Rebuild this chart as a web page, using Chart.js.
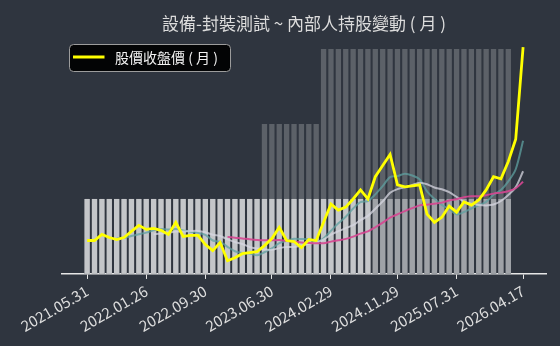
<!DOCTYPE html>
<html><head><meta charset="utf-8">
<script src="https://cdn.jsdelivr.net/npm/chart.js@4.4.1/dist/chart.umd.min.js"></script>
<style>html,body{margin:0;padding:0;background:#2f353f;}canvas{display:block;}</style>
</head><body>
<canvas id="c" width="560" height="346"></canvas>
<script>
const chartTitle = '設備-封裝測試 ~ 內部人持股變動 ( 月 )';
const priceLabel = '股價收盤價 ( 月 )';
const tickIdx = [0, 8, 16, 25, 33, 42, 50, 59];
const tickLabels = ['2021.05.31','2022.01.26','2022.09.30','2023.06.30','2024.02.29','2024.11.29','2025.07.31','2026.04.17'];

const price = [36.5,36.5,39.5,38,37,38,41,44,42,42.5,41.5,39.5,45.5,38.5,39,39,34.5,31.5,35.5,26.5,
  28,30,30.5,31,34,37.5,43,36.5,36,33,37,36.5,45.5,54.5,51.5,53,57,61.5,57,68,
  73.5,79,64,63,63.5,64,49.5,45.5,48,53.5,50.5,55.5,54,56.5,61.5,68,67,75.5,86.5,132];

const ma5 = [null,null,null,null,37.5,37.8,38.7,39.6,40.4,41.5,42.2,41.9,42.2,41.5,40.8,40.3,39.3,36.5,35.9,33.4,
  31.2,30.3,30.1,29.2,30.7,32.6,35.2,36.4,37.4,37.2,37.1,35.8,37.6,41.3,45,48.2,52.3,55.5,56,59.3,
  63.4,67.8,68.3,69.5,68.6,66.7,60.8,57.1,54.1,52.1,49.4,50.6,52.3,54,55.6,59.1,61.4,65.7,71.7,85.8];

const ma10 = [null,null,null,null,null,null,null,null,null,39.5,40,40.3,40.9,40.95,41.15,41.25,40.6,39.35,38.7,37.1,
  35.75,34.8,33.3,32.55,32.05,31.9,32.75,33.25,33.3,33.95,34.85,35.5,37,39.35,41.1,42.65,44.05,46.55,48.65,52.15,
  55.8,60.05,61.9,62.75,63.95,65.05,64.3,62.7,61.8,60.35,58.05,55.7,54.7,54.05,53.85,54.25,56,59,62.85,70.7];

const ma20 = [null,null,null,null,null,null,null,null,null,null,null,null,null,null,null,null,null,null,null,38.3,
  37.9,37.55,37.1,36.75,36.6,36.6,36.7,36.3,36,35.5,35.3,35.15,35.15,35.95,36.6,37.3,38.4,39.9,41,43.05,
  45.3,47.8,49.45,51.05,52.5,53.85,54.2,54.6,55.2,56.25,56.9,57.9,58.3,58.4,58.9,59.65,60.15,60.85,62.3,65.5];

// insider holding (%), monthly
const holdTotal = [10,10,10,10,10,10,10,10,10,10,10,10,10,10,10,10,10,10,10,10,
  10,10,10,10,20,20,20,20,20,20,20,20,30,30,30,30,30,30,30,30,
  30,30,30,30,30,30,30,30,30,30,30,30,30,30,30,30,30,30];
const holdDirA = [10,10,10,10,10,10,10,10,10,10,10,10,10,10,10,10,10,10,10,10,
  10,10,10,10,10,10,10,10,10,10,10,10,10,10,10,10,10,10,10,null,
  null,null,null,null,null,null,null,null,null,null,null,null,null,null,null,null,null,null];
const holdDirB = [null,null,null,null,null,null,null,null,null,null,null,null,null,null,null,null,null,null,null,null,
  null,null,null,null,null,null,null,null,null,null,null,null,null,null,null,null,null,null,null,10,
  10,10,10,10,10,10,10,10,10,10,10,10,10,10,10,10,10,10];

const xy = arr => arr.map((v, i) => ({x: i, y: v}));
const FONT = '"Noto Sans CJK TC", "Noto Sans", sans-serif';

const bgPlugin = {
  id: 'bg',
  beforeDraw(chart) {
    const ctx = chart.ctx;
    ctx.save();
    ctx.fillStyle = '#2f353f';
    ctx.fillRect(0, 0, chart.width, chart.height);
    ctx.restore();
  }
};

const legendPlugin = {
  id: 'boxLegend',
  afterDraw(chart) {
    const ctx = chart.ctx, a = chart.chartArea;
    const x = a.left + 7.5, y = a.top + 4.5, w = 161, h = 27;
    ctx.save();
    ctx.beginPath();
    ctx.roundRect(x, y, w, h, 4);
    ctx.fillStyle = 'rgba(0,0,0,0.92)';
    ctx.fill();
    ctx.strokeStyle = '#9c9c9c';
    ctx.lineWidth = 1;
    ctx.stroke();
    ctx.beginPath();
    ctx.moveTo(x + 3.5, y + 12.5);
    ctx.lineTo(x + 35, y + 12.5);
    ctx.strokeStyle = '#ffff00';
    ctx.lineWidth = 3;
    ctx.stroke();
    ctx.fillStyle = '#f2f2f2';
    ctx.font = '14px ' + FONT;
    ctx.textBaseline = 'middle';
    ctx.fillText(chart.data.datasets[0].label, x + 45.5, y + 13.5);
    ctx.restore();
  }
};

new Chart(document.getElementById('c'), {
  type: 'line',
  data: {
    datasets: [
      {type: 'line', label: priceLabel, data: xy(price), borderColor: '#ffff00', borderWidth: 2.8,
        pointRadius: 0, tension: 0, yAxisID: 'y', order: 0},
      {type: 'line', label: 'MA5', data: xy(ma5), borderColor: 'rgba(95,160,160,0.75)', borderWidth: 2,
        pointRadius: 0, tension: 0.3, yAxisID: 'y', order: 3},
      {type: 'line', label: 'MA10', data: xy(ma10), borderColor: 'rgba(215,215,225,0.75)', borderWidth: 2,
        pointRadius: 0, tension: 0.3, yAxisID: 'y', order: 2},
      {type: 'line', label: 'MA20', data: xy(ma20), borderColor: 'rgba(214,70,145,0.9)', borderWidth: 2,
        pointRadius: 0, tension: 0.3, yAxisID: 'y', order: 1},
      {type: 'bar', label: '持股A', data: xy(holdDirA), backgroundColor: '#c4c6c9', yAxisID: 'y2',
        grouped: false, barPercentage: 0.72, categoryPercentage: 1, order: 5},
      {type: 'bar', label: '持股B', data: xy(holdDirB), backgroundColor: '#9fa2a7', yAxisID: 'y2',
        grouped: false, barPercentage: 0.72, categoryPercentage: 1, order: 5},
      {type: 'bar', label: '持股合計', data: xy(holdTotal), backgroundColor: '#5c6168', yAxisID: 'y2',
        grouped: false, barPercentage: 0.72, categoryPercentage: 1, order: 6}
    ]
  },
  options: {
    responsive: false,
    animation: false,
    devicePixelRatio: 1,
    layout: {padding: {left: 62, right: 14, top: 0, bottom: 8}},
    plugins: {
      legend: {display: false},
      tooltip: {enabled: false},
      title: {display: true, text: chartTitle, color: '#dcdcdc', fullSize: false,
        font: {family: FONT, size: 17, weight: 'normal'}, padding: {top: 13, bottom: 6.6}}
    },
    scales: {
      x: {type: 'linear', min: -3.4, max: 62.1, offset: false,
        afterBuildTicks: s => { s.ticks = tickIdx.map(v => ({value: v})); },
        ticks: {autoSkip: false, maxRotation: 30, minRotation: 30, color: '#dedede', padding: 3,
          font: {family: FONT, size: 15},
          callback: v => { const k = tickIdx.indexOf(v); return k >= 0 ? tickLabels[k] : ''; }},
        grid: {display: true, offset: false, drawOnChartArea: false, drawTicks: true, tickLength: 5, color: '#e6e6e6', lineWidth: 1},
        border: {display: true, color: '#e6e6e6', width: 1.5}
      },
      y: {display: false, min: 20, max: 135.5},
      y2: {display: false, min: 0, max: 31.2}
    }
  },
  plugins: [bgPlugin, legendPlugin]
});
</script>
</body></html>
